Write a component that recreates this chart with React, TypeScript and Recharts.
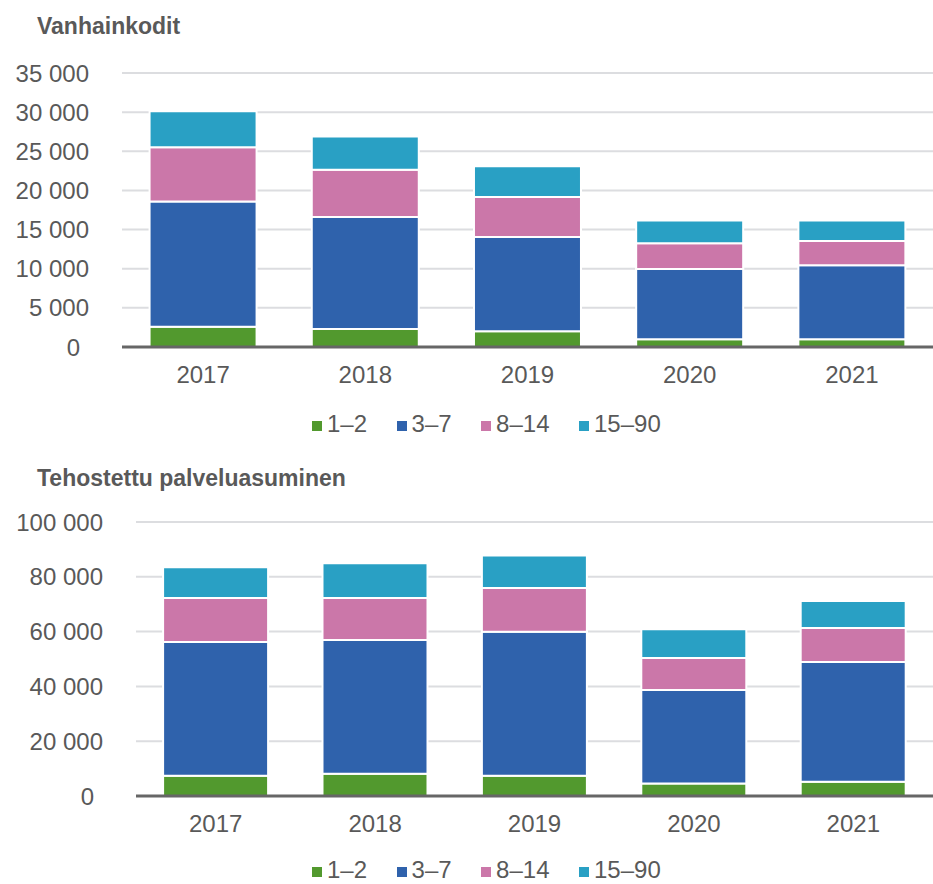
import { BarChart, Bar, XAxis, YAxis, CartesianGrid, Legend } from 'recharts';

const years = ['2017', '2018', '2019', '2020', '2021'];

// Vanhainkodit
const vk12 = [2600, 2300, 2000, 1000, 1000];
const vk37 = [16000, 14300, 12050, 8950, 9450];
const vk814 = [6900, 6050, 5100, 3300, 3100];
const vk1590 = [4600, 4250, 3950, 2900, 2600];
const vkTicks = [0, 5000, 10000, 15000, 20000, 25000, 30000, 35000];

// Tehostettu palveluasuminen
const tp12 = [7400, 8100, 7400, 4600, 5200];
const tp37 = [48800, 48800, 52500, 34100, 43700];
const tp814 = [16100, 15400, 16000, 11700, 12400];
const tp1590 = [11200, 12600, 11900, 10500, 9900];
const tpTicks = [0, 20000, 40000, 60000, 80000, 100000];

const seriesNames = ['1–2', '3–7', '8–14', '15–90'];
const seriesColors = ['#52992e', '#2f62ac', '#cb77a9', '#29a0c4'];

const TEXT = '#595959';

const fmt = (v: number) => v.toLocaleString('en-US').replace(/,/g, ' ');

const buildRows = (a: number[], b: number[], c: number[], d: number[]) =>
  years.map((year, i) => ({ year, s0: a[i], s1: b[i], s2: c[i], s3: d[i] }));

const vkData = buildRows(vk12, vk37, vk814, vk1590);
const tpData = buildRows(tp12, tp37, tp814, tp1590);

const YTick = ({ x, y, payload }: any) => (
  <text
    x={payload.value === 0 ? x - 9 : x}
    y={y}
    dy="0.355em"
    textAnchor="end"
    fill={TEXT}
    fontSize={24}
  >
    {fmt(payload.value)}
  </text>
);

const renderLegend = () => (
  <div
    style={{
      display: 'flex',
      alignItems: 'center',
      height: 20,
      paddingLeft: 312,
      fontSize: 24,
      lineHeight: '20px',
      color: TEXT,
    }}
  >
    {seriesNames.map((name, i) => (
      <div key={name} style={{ display: 'flex', alignItems: 'center', marginRight: 29.5 }}>
        <span
          style={{
            display: 'inline-block',
            width: 10,
            height: 10,
            marginRight: 5,
            marginTop: 3,
            background: seriesColors[i],
          }}
        />
        <span>{name}</span>
      </div>
    ))}
  </div>
);

interface PanelProps {
  data: any[];
  ticks: number[];
  max: number;
  height: number;
  marginTop: number;
  marginBottom: number;
  yWidth: number;
  xHeight: number;
}

function Panel({ data, ticks, max, height, marginTop, marginBottom, yWidth, xHeight }: PanelProps) {
  return (
    <BarChart
      width={933}
      height={height}
      data={data}
      margin={{ top: marginTop, right: 0, left: 0, bottom: marginBottom }}
      barCategoryGap="17%"
    >
      <CartesianGrid vertical={false} stroke="#dcdde0" strokeWidth={2} />
      <YAxis
        type="number"
        domain={[0, max]}
        ticks={ticks}
        width={yWidth}
        axisLine={false}
        tickLine={false}
        tickSize={0}
        tickMargin={33}
        tick={<YTick />}
        interval={0}
      />
      {seriesNames.map((name, i) => (
        <Bar
          key={name}
          dataKey={`s${i}`}
          name={name}
          stackId="a"
          fill={seriesColors[i]}
          stroke="#ffffff"
          strokeWidth={2}
          isAnimationActive={false}
        />
      ))}
      <XAxis
        dataKey="year"
        height={xHeight}
        tickLine={false}
        tickSize={0}
        tickMargin={19}
        axisLine={{ stroke: '#666666', strokeWidth: 3 }}
        tick={{ fill: TEXT, fontSize: 24 }}
      />
      <Legend verticalAlign="bottom" content={renderLegend} />
    </BarChart>
  );
}

const titleStyle: React.CSSProperties = {
  position: 'absolute',
  left: 37,
  fontSize: 23,
  fontWeight: 'bold',
  lineHeight: '23px',
  color: TEXT,
  whiteSpace: 'nowrap',
};

export default function App() {
  return (
    <div
      style={{
        position: 'absolute',
        left: 0,
        top: 0,
        width: 933,
        height: 884,
        background: '#ffffff',
        fontFamily: '"Liberation Sans", Arial, sans-serif',
      }}
    >
      <div style={{ position: 'absolute', left: 0, top: 0 }}>
        <Panel
          data={vkData}
          ticks={vkTicks}
          max={35000}
          height={445}
          marginTop={73}
          marginBottom={11}
          yWidth={122}
          xHeight={67}
        />
      </div>
      <div style={{ position: 'absolute', left: 0, top: 445 }}>
        <Panel
          data={tpData}
          ticks={tpTicks}
          max={100000}
          height={439}
          marginTop={77}
          marginBottom={4}
          yWidth={136}
          xHeight={64}
        />
      </div>
      <div style={{ ...titleStyle, top: 14.5 }}>Vanhainkodit</div>
      <div style={{ ...titleStyle, top: 467 }}>Tehostettu palveluasuminen</div>
    </div>
  );
}
